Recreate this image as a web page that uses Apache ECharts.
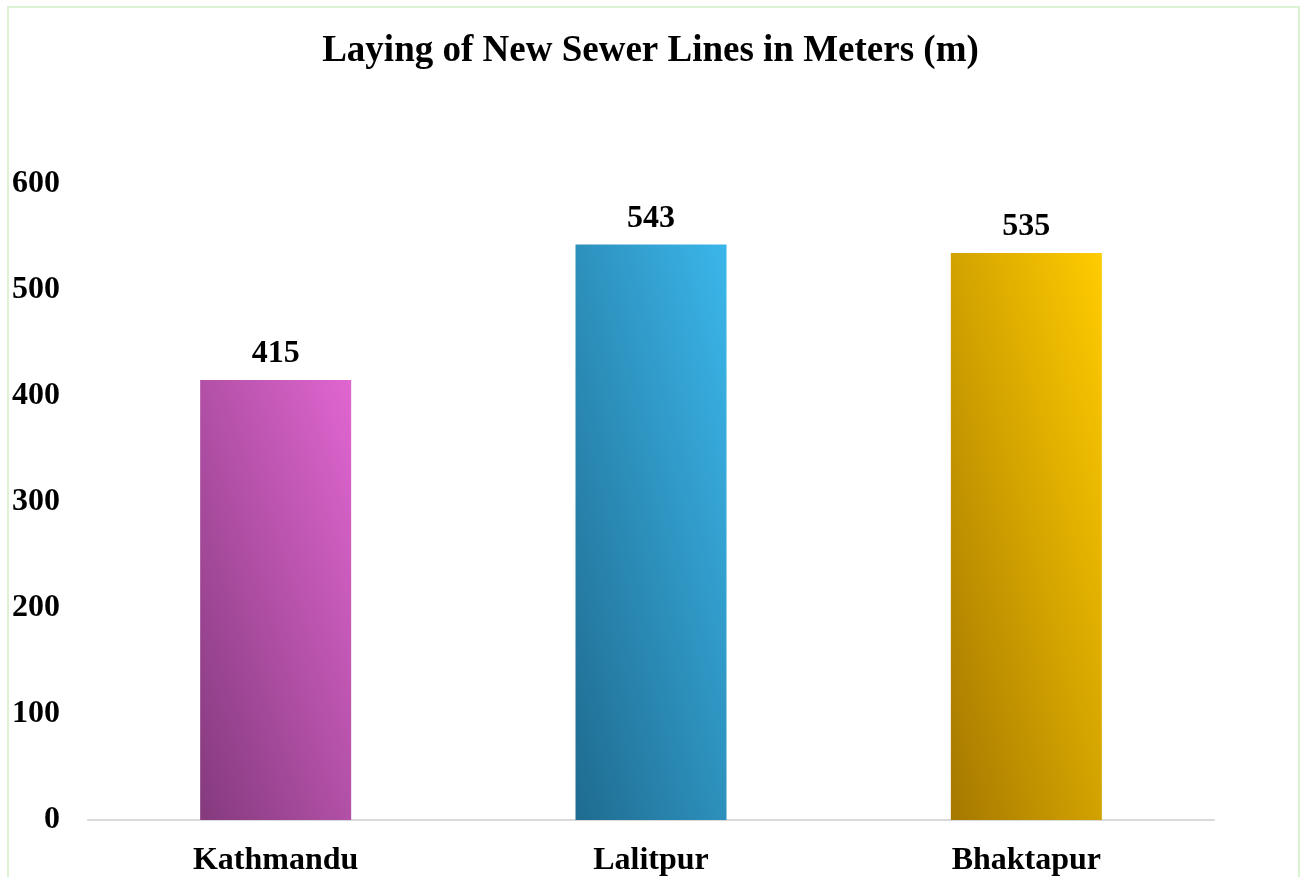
<!DOCTYPE html>
<html>
<head>
<meta charset="utf-8">
<script src="https://cdn.jsdelivr.net/npm/echarts@6/dist/echarts.min.js"></script>
<style>
  html, body { margin: 0; padding: 0; background: #fff; }
  #chart { width: 1301px; height: 877px; }
</style>
</head>
<body>
<div id="chart"></div>
<script>
// Sewer line lengths per district (meters)
const districts = ['Kathmandu', 'Lalitpur', 'Bhaktapur'];
const meters = [415, 543, 535];
const yTicks = [0, 100, 200, 300, 400, 500, 600];
// Dark (bottom-left) and bright (top-right) ends of each bar's fill
const darkEnds = ['#843a7d', '#1f6b8f', '#a57800'];
const brightEnds = ['#e066d0', '#3bb6ea', '#ffcc00'];

const FONT = '"Liberation Serif", "Times New Roman", serif';
const chart = echarts.init(document.getElementById('chart'), null, { renderer: 'canvas' });

const GRID = { left: 88, right: 87, top: 184, bottom: 55 };

function baseOption(fills) {
  return {
    backgroundColor: '#ffffff',
    animation: false,
    title: {
      text: 'Laying of New Sewer Lines in Meters (m)',
      left: 'center',
      top: 28,
      textStyle: { fontFamily: FONT, fontSize: 37, fontWeight: 'bold', color: '#000' }
    },
    graphic: [{
      type: 'rect',
      shape: { x: 8, y: 7, width: 1291, height: 900 },
      style: { fill: 'none', stroke: '#dcf3d3', lineWidth: 2 },
      silent: true
    }],
    grid: GRID,
    xAxis: {
      type: 'category',
      data: districts,
      axisLine: { lineStyle: { color: '#d9d9d9', width: 2 } },
      axisTick: { show: false },
      axisLabel: { fontFamily: FONT, fontSize: 32, fontWeight: 'bold', color: '#000', margin: 25 }
    },
    yAxis: {
      type: 'value',
      min: yTicks[0],
      max: yTicks[yTicks.length - 1],
      interval: yTicks[1] - yTicks[0],
      axisLine: { show: false },
      axisTick: { show: false },
      splitLine: { show: false },
      axisLabel: { fontFamily: FONT, fontSize: 32, fontWeight: 'bold', color: '#000', margin: 28 }
    },
    series: [{
      type: 'bar',
      barWidth: 151,
      data: meters.map((v, i) => ({ value: v, itemStyle: { color: fills ? fills[i] : darkEnds[i] } })),
      label: {
        show: true,
        position: 'top',
        distance: 10,
        fontFamily: FONT, fontSize: 32, fontWeight: 'bold', color: '#000'
      }
    }]
  };
}

chart.setOption(baseOption(null));

// Diagonal fill whose colour bands run parallel to the bar's top-left/bottom-right diagonal
const fills = meters.map((v, i) => {
  const base = chart.convertToPixel({ yAxisIndex: 0 }, 0);
  const top = chart.convertToPixel({ yAxisIndex: 0 }, v);
  const h = Math.abs(base - top);
  const w = 151;
  const s = h * h + w * w;
  return new echarts.graphic.LinearGradient(0, 1, 2 * h * h / s, 1 - 2 * w * w / s, [
    { offset: 0, color: darkEnds[i] },
    { offset: 1, color: brightEnds[i] }
  ]);
});
chart.setOption(baseOption(fills));
</script>
</body>
</html>
